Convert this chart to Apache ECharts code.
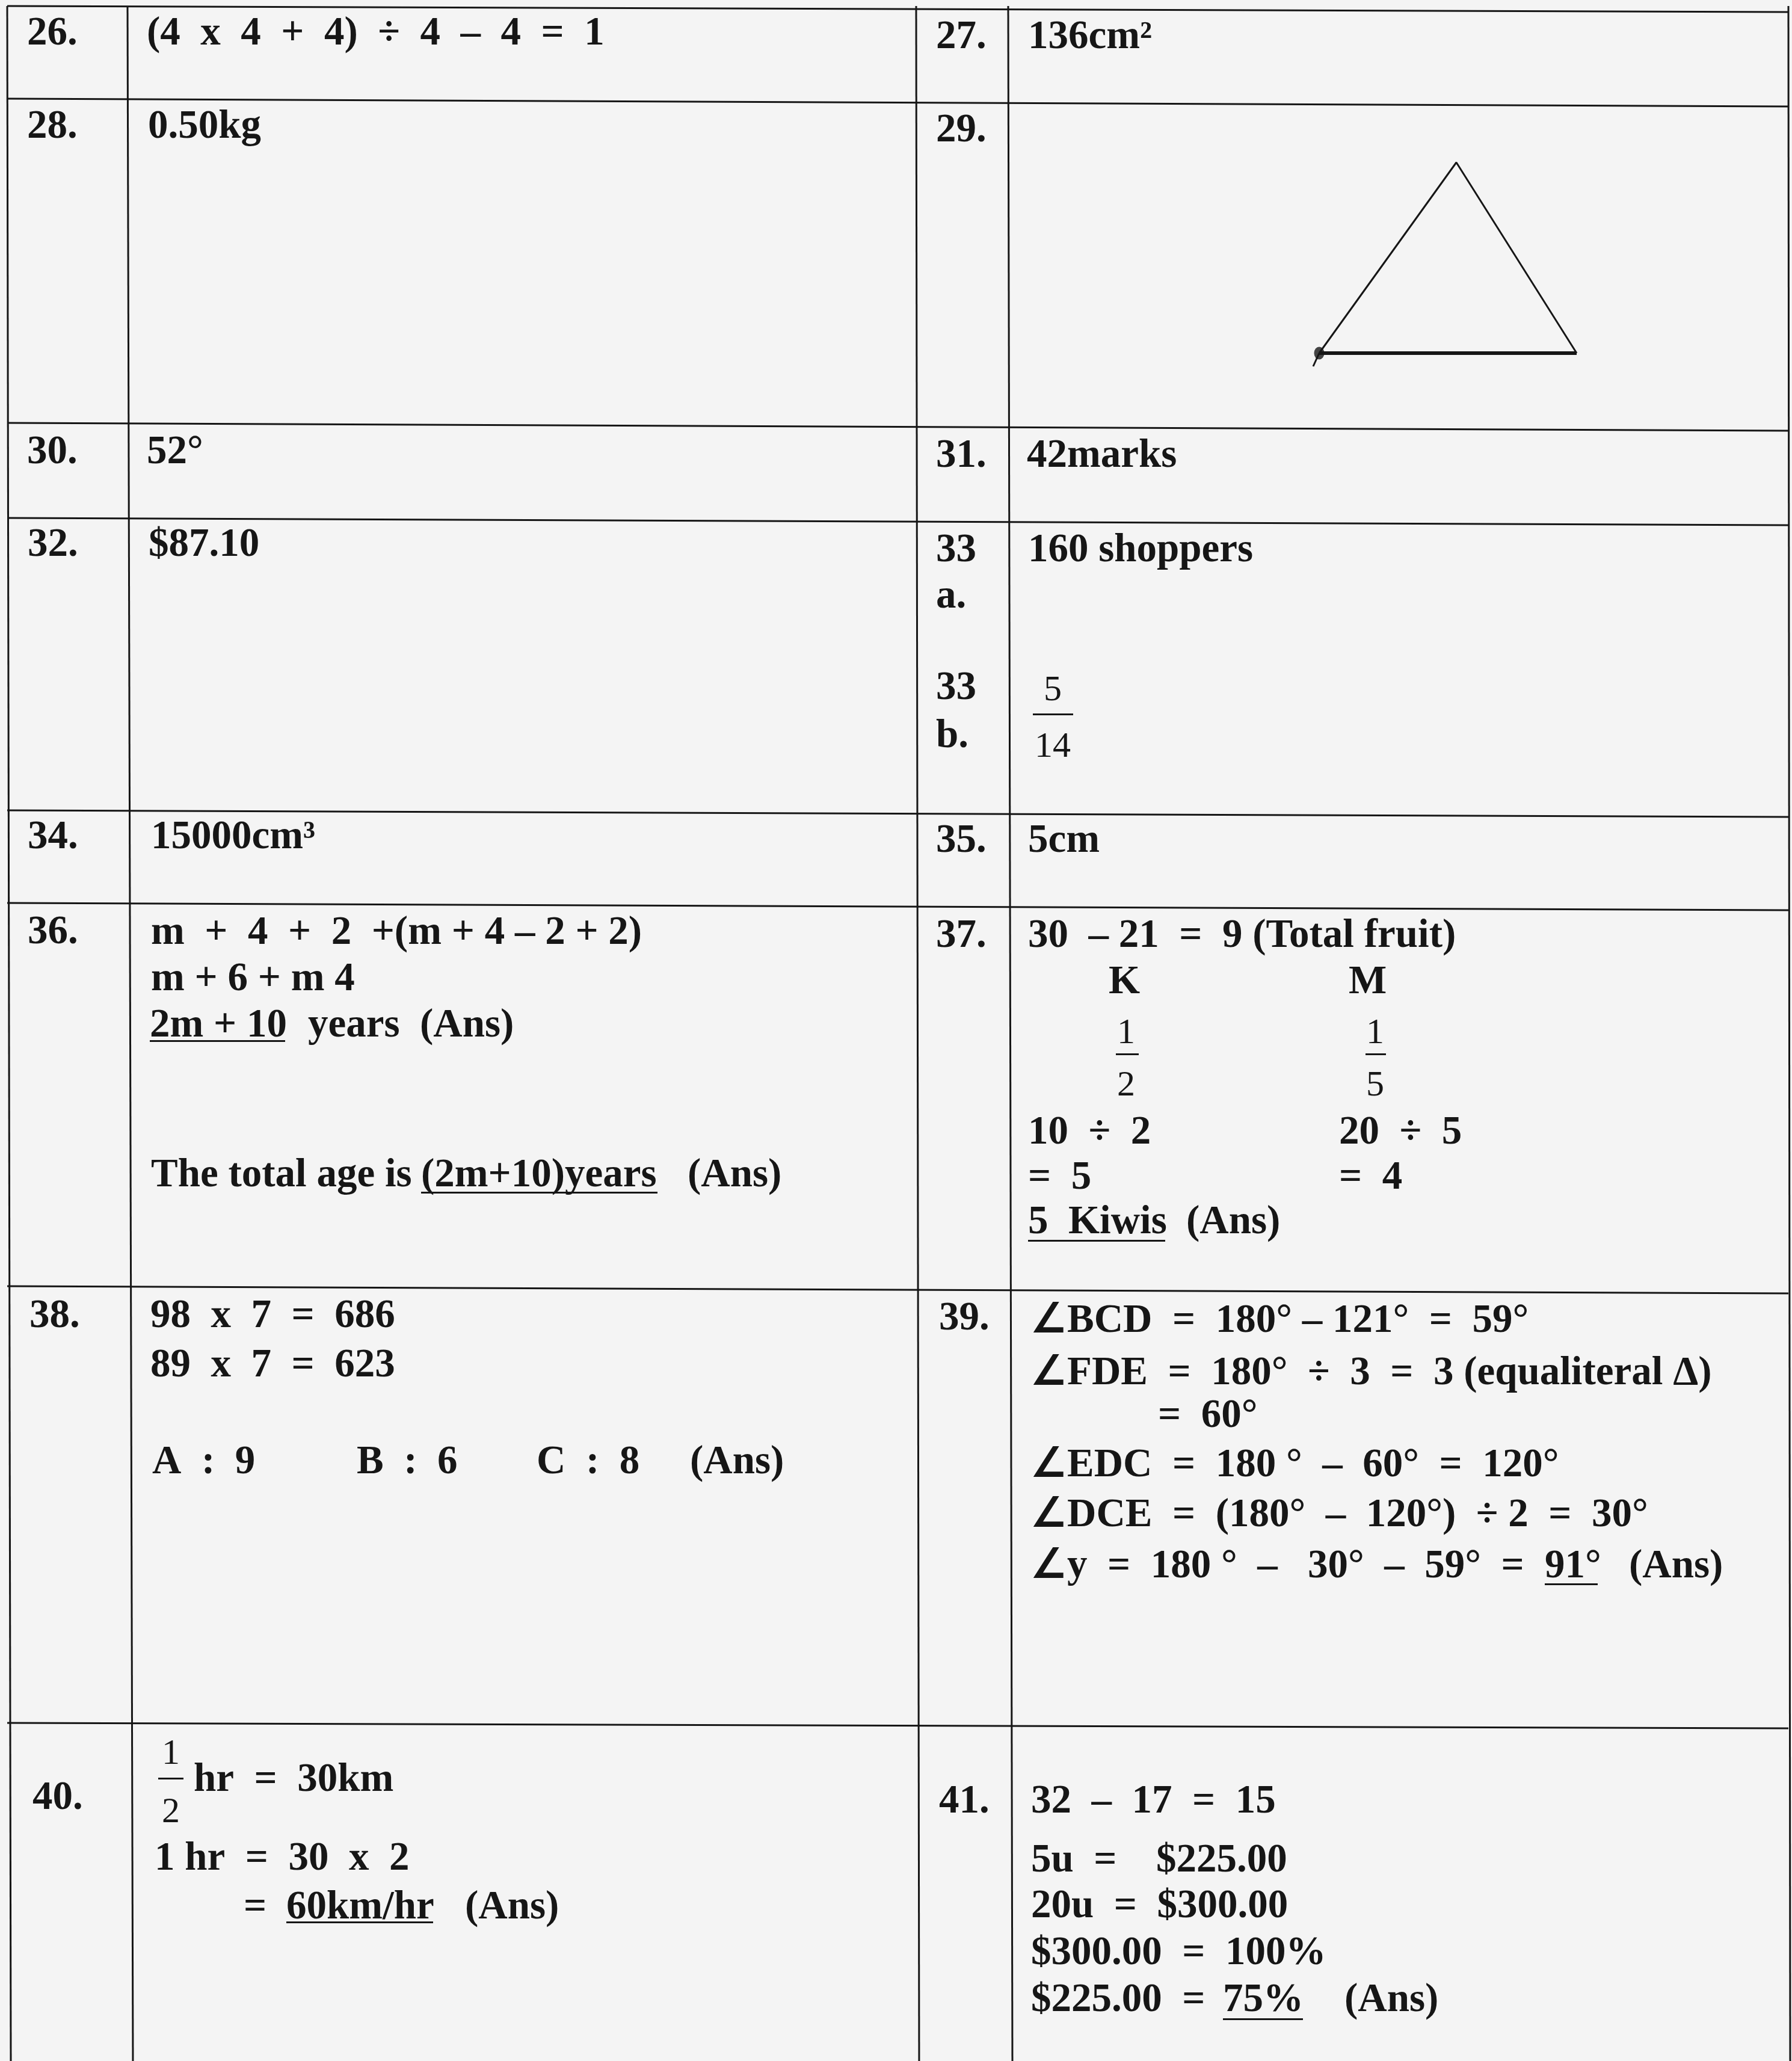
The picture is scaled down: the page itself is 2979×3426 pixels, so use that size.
<!DOCTYPE html>
<html>
<head>
<meta charset="utf-8">
<title>Answers 26-41</title>
<script src="https://cdn.jsdelivr.net/npm/echarts@6/dist/echarts.min.js"></script>
<style>
  html, body { margin: 0; padding: 0; background: #f4f4f4; }
  #sheet { width: 2979px; height: 3426px; }
</style>
</head>
<body>
<div id="sheet"></div>
<script>
// table edges (page units) - it is a little skewed
var colEdgesTop = [12, 212, 1523, 1676, 2973];
var colEdgesBottom = [18, 221, 1528, 1683, 2976];
var rowEdgesLeft = [10, 164, 703, 861, 1347, 1501, 2138, 2864];
var rowEdgesRight = [20, 177, 716, 873, 1358, 1513, 2150, 2873];

// question numbers
var questionNos = [
  [45, 51, '26.'], [45, 206, '28.'], [45, 747, '30.'], [46, 901, '32.'],
  [46, 1387, '34.'], [46, 1545, '36.'], [49, 2183, '38.'], [54, 2984, '40.'],
  [1556, 57, '27.'], [1556, 212, '29.'], [1556, 753, '31.'],
  [1556, 910, '33'], [1556, 987, 'a.'], [1556, 1139, '33'], [1556, 1219, 'b.'],
  [1556, 1393, '35.'], [1556, 1551, '37.'], [1561, 2187, '39.'], [1561, 2990, '41.']
];

// worked answers, one entry per written piece of a line
var answerLines = [
  [244, 51, '(4  x  4  +  4)  ÷  4  –  4  =  1'],
  [1709, 57, '136cm²'],
  [246, 206, '0.50kg'],
  [244, 747, '52°'],
  [1707, 753, '42marks'],
  [247, 901, '$87.10'],
  [1709, 910, '160 shoppers'],
  [251, 1387, '15000cm³'],
  [1709, 1393, '5cm'],
  [251, 1546, 'm  +  4  +  2  +(m + 4 – 2 + 2)'],
  [251, 1623, 'm + 6 + m 4'],
  [249, 1700, '2m + 10'],
  [512, 1700, 'years  (Ans)'],
  [251, 1949, 'The total age is'],
  [700, 1949, '(2m+10)years'],
  [1143, 1949, '(Ans)'],
  [1709, 1551, '30  – 21  =  9 (Total fruit)'],
  [1843, 1628, 'K'],
  [2242, 1628, 'M'],
  [1709, 1878, '10  ÷  2'],
  [2226, 1878, '20  ÷  5'],
  [1709, 1953, '=  5'],
  [2226, 1953, '=  4'],
  [1709, 2027, '5  Kiwis'],
  [1972, 2027, '(Ans)'],
  [250, 2183, '98  x  7  =  686'],
  [250, 2265, '89  x  7  =  623'],
  [253, 2426, 'A  :  9'],
  [593, 2426, 'B  :  6'],
  [892, 2426, 'C  :  8'],
  [1147, 2426, '(Ans)'],
  [1714, 2191, '∠BCD  =  180° – 121°  =  59°'],
  [1714, 2278, '∠FDE  =  180°  ÷  3  =  3 (equaliteral Δ)'],
  [1925, 2349, '=  60°'],
  [1714, 2431, '∠EDC  =  180 °  –  60°  =  120°'],
  [1714, 2514, '∠DCE  =  (180°  –  120°)  ÷ 2  =  30°'],
  [1714, 2599, '∠y  =  180 °  –   30°  –  59°  ='],
  [2568, 2599, '91°'],
  [2708, 2599, '(Ans)'],
  [322, 2954, 'hr  =  30km'],
  [257, 3085, '1 hr  =  30  x  2'],
  [405, 3166, '='],
  [476, 3166, '60km/hr'],
  [773, 3166, '(Ans)'],
  [1714, 2990, '32  –  17  =  15'],
  [1714, 3088, '5u  ='],
  [1922, 3088, '$225.00'],
  [1714, 3164, '20u  =  $300.00'],
  [1714, 3242, '$300.00  =  100%'],
  [1714, 3320, '$225.00  ='],
  [2033, 3320, '75%'],
  [2235, 3320, '(Ans)']
];

// numerators / denominators of the stacked fractions
var fractionDigits = [
  [1750, 1142, '5'], [1750, 1236, '14'],
  [1872, 1712, '1'], [1872, 1799, '2'],
  [2286, 1712, '1'], [2286, 1799, '5'],
  [284, 2910, '1'], [284, 3007, '2']
];
var fractionBars = [
  [[1717, 1187], [1784, 1187]],
  [[1855, 1752], [1893, 1752]],
  [[2270, 1752], [2304, 1752]],
  [[263, 2956], [305, 2956]]
];
var underlines = [
  [[249, 1730], [474, 1730]],
  [[700, 1982], [1093, 1982]],
  [[1709, 2062], [1937, 2062]],
  [[2568, 2633], [2656, 2633]],
  [[476, 3195], [720, 3195]],
  [[2033, 3356], [2166, 3356]]
];

// Q29 sketch: left foot, apex, right foot, and the pen slip under the dot
var triX = [2193, 2421, 2621];
var triY = [587, 270, 587];
var penSlip = [[2193, 587], [2183, 609]];

var pageW = 2979, pageH = 3426;
var ink = '#161616';
var serif = '"Liberation Serif", "Times New Roman", serif';
var yNudge = 6; // canvas 'middle' sits a touch above the digit centre

function gridSegments() {
  var segs = [];
  for (var i = 0; i < colEdgesTop.length; i++) {
    segs.push({ coords: [[colEdgesTop[i], rowEdgesLeft[0]], [colEdgesBottom[i], pageH]] });
  }
  for (var j = 0; j < rowEdgesLeft.length; j++) {
    segs.push({ coords: [[colEdgesTop[0], rowEdgesLeft[j]], [colEdgesTop[colEdgesTop.length - 1], rowEdgesRight[j]]] });
  }
  return segs;
}

function toSegs(list) {
  return list.map(function (c) { return { coords: c }; });
}

function textSeries(name, rows, font, align) {
  return {
    name: name,
    type: 'custom',
    coordinateSystem: 'cartesian2d',
    silent: true,
    data: rows.map(function (r) { return [r[0], r[1]]; }),
    renderItem: function (params, api) {
      var p = api.coord([api.value(0), api.value(1)]);
      return {
        type: 'text',
        x: p[0],
        y: p[1] + yNudge,
        style: {
          text: rows[params.dataIndex][2],
          font: font,
          fill: ink,
          align: align,
          verticalAlign: 'middle'
        }
      };
    }
  };
}

var chart = echarts.init(document.getElementById('sheet'), null, { renderer: 'canvas' });
chart.setOption({
  backgroundColor: '#f4f4f4',
  animation: false,
  grid: { left: 0, right: 0, top: 0, bottom: 0 },
  xAxis: { type: 'value', min: 0, max: pageW, show: false },
  yAxis: { type: 'value', min: 0, max: pageH, inverse: true, show: false },
  series: [
    {
      name: 'grid',
      type: 'lines',
      coordinateSystem: 'cartesian2d',
      silent: true,
      data: gridSegments(),
      lineStyle: { color: ink, width: 3, opacity: 1 }
    },
    {
      name: 'rules',
      type: 'lines',
      coordinateSystem: 'cartesian2d',
      silent: true,
      data: toSegs(underlines).concat(toSegs(fractionBars)),
      lineStyle: { color: ink, width: 3, opacity: 1 }
    },
    {
      name: 'triangle sides',
      type: 'line',
      silent: true,
      symbol: 'none',
      data: triX.map(function (x, i) { return [x, triY[i]]; }),
      lineStyle: { color: ink, width: 3 }
    },
    {
      name: 'triangle base',
      type: 'line',
      silent: true,
      symbol: 'none',
      data: [[triX[0], triY[0]], [triX[2], triY[2]]],
      lineStyle: { color: ink, width: 6 }
    },
    {
      name: 'pen slip',
      type: 'line',
      silent: true,
      symbol: 'none',
      data: penSlip,
      lineStyle: { color: ink, width: 3 }
    },
    {
      name: 'start point',
      type: 'scatter',
      silent: true,
      symbol: 'circle',
      symbolSize: [17, 21],
      data: [[triX[0], triY[0]]],
      itemStyle: { color: ink }
    },
    textSeries('numbers', questionNos, 'bold 67px ' + serif, 'left'),
    textSeries('answers', answerLines, 'bold 67px ' + serif, 'left'),
    textSeries('fractions', fractionDigits, '60px ' + serif, 'center')
  ]
});
window.onresize = chart.resize;
</script>
</body>
</html>
